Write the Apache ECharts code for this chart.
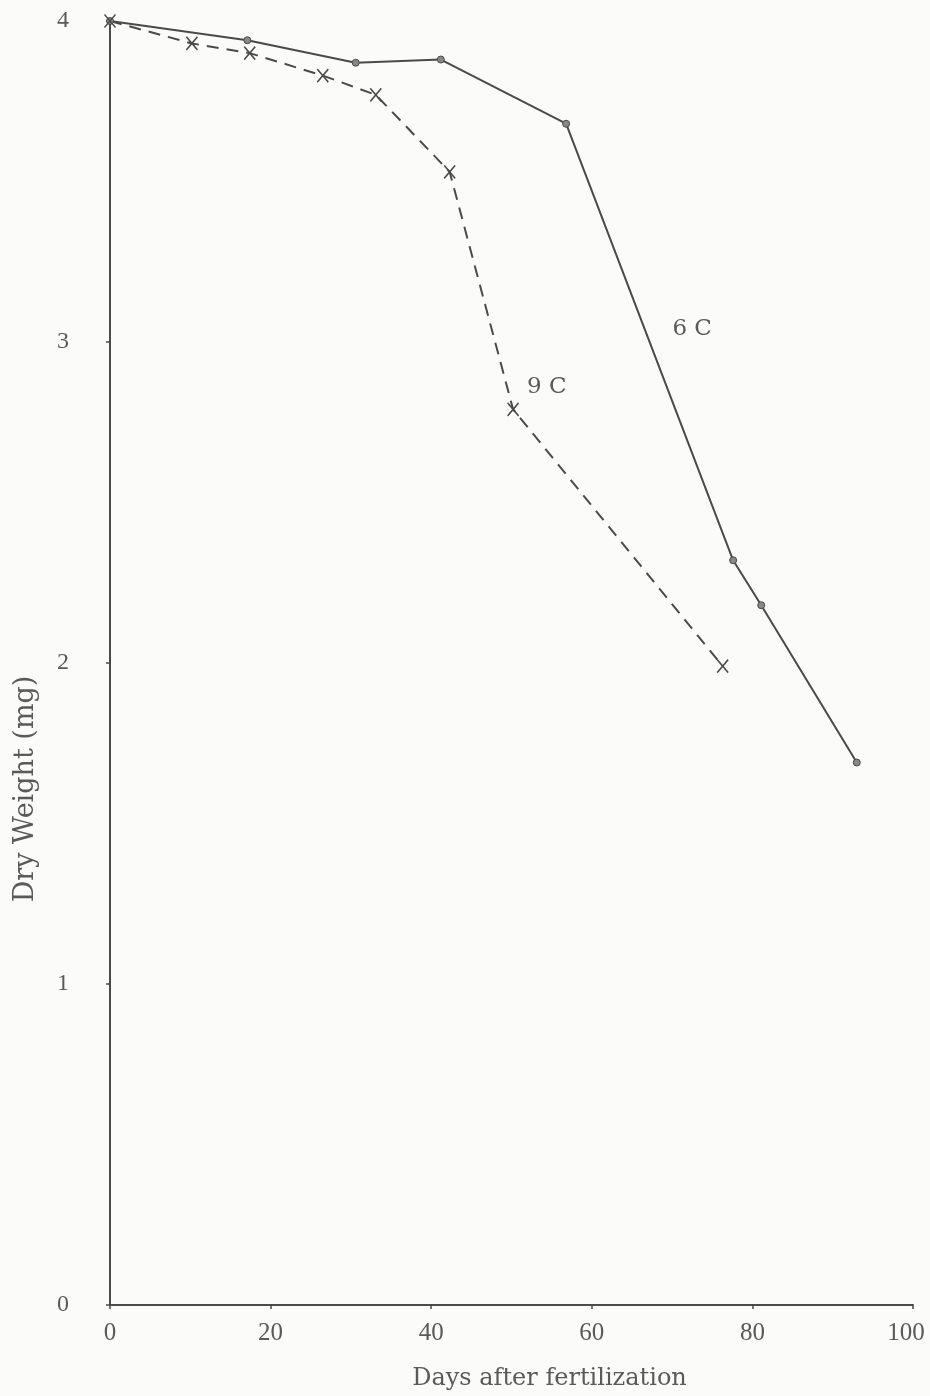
<!DOCTYPE html>
<html>
<head>
<meta charset="utf-8">
<script src="https://cdn.jsdelivr.net/npm/echarts@6/dist/echarts.min.js"></script>
<style>
html,body{margin:0;padding:0;background:#fbfbfa;}
#chart{width:930px;height:1396px;}
</style>
</head>
<body>
<div id="chart"></div>
<script>
// Data
const days6C = [0, 17.1, 30.6, 41.2, 56.8, 77.6, 81.1, 93.0];
const weight6C = [4.0, 3.94, 3.87, 3.88, 3.68, 2.32, 2.18, 1.69];
const days9C = [0, 10.2, 17.4, 26.5, 33.1, 42.3, 50.2, 76.3];
const weight9C = [4.0, 3.93, 3.90, 3.83, 3.77, 3.53, 2.79, 1.99];
const xTicks = [0, 20, 40, 60, 80, 100];
const yTicks = [0, 1, 2, 3, 4];
const label6C = {text: '6 C', x: 72.5, y: 3.04};
const label9C = {text: '9 C', x: 54.4, y: 2.86};

const ink = '#4a4a4a';
const textInk = '#5a5a5a';
const serif = 'DejaVu Serif';
const xMax = xTicks[xTicks.length - 1];

const pairs = (xs, ys) => xs.map((v, i) => [v, ys[i]]);

const chart = echarts.init(document.getElementById('chart'));
chart.setOption({
  backgroundColor: '#fbfbfa',
  animation: false,
  grid: {left: 110, right: 17, top: 21, bottom: 91, containLabel: false, outerBoundsMode: 'none'},
  xAxis: {
    type: 'value', min: xTicks[0], max: xMax, interval: 20,
    name: 'Days after fertilization', nameLocation: 'middle', nameGap: 62,
    nameTextStyle: {fontFamily: serif, fontSize: 24, color: textInk, padding: [0, 0, 0, 76]},
    axisLine: {show: true, lineStyle: {color: ink, width: 2}},
    axisTick: {show: true, length: 4, lineStyle: {color: ink, width: 1.5}},
    axisLabel: {
      margin: 16, fontFamily: 'Liberation Serif', fontSize: 25, color: textInk,
      formatter: v => v === xMax ? '{m|' + v + '}' : String(v),
      rich: {m: {fontFamily: 'Liberation Serif', fontSize: 25, color: textInk, padding: [0, 14, 0, 0]}}
    },
    splitLine: {show: false}
  },
  yAxis: {
    type: 'value', min: yTicks[0], max: yTicks[yTicks.length - 1], interval: 1,
    axisLine: {show: true, lineStyle: {color: ink, width: 2}},
    axisTick: {show: true, length: 4, lineStyle: {color: ink, width: 1.5}},
    axisLabel: {margin: 41, fontFamily: 'Liberation Serif', fontSize: 24, color: textInk},
    splitLine: {show: false}
  },
  graphic: [{
    type: 'text', x: 26, y: 789, rotation: Math.PI / 2,
    style: {text: 'Dry Weight (mg)', fontFamily: serif, fontSize: 27, fill: textInk,
            align: 'center', verticalAlign: 'middle'}
  }],
  series: [{
    name: '6 C', type: 'line', data: pairs(days6C, weight6C),
    lineStyle: {color: ink, width: 2},
    symbol: 'circle', symbolSize: 7,
    itemStyle: {color: '#888', borderColor: ink, borderWidth: 1},
    markPoint: {
      symbol: 'circle', symbolSize: 0,
      label: {show: true, formatter: label6C.text, fontFamily: serif, fontSize: 23, color: textInk},
      data: [{coord: [label6C.x, label6C.y]}]
    }
  }, {
    name: '9 C', type: 'line', data: pairs(days9C, weight9C),
    lineStyle: {color: ink, width: 2, type: [12, 8]},
    symbol: 'path://M0,0L10,12M10,0L0,12', symbolSize: [11, 13],
    itemStyle: {color: 'none', borderColor: ink, borderWidth: 1.6},
    markPoint: {
      symbol: 'circle', symbolSize: 0,
      label: {show: true, formatter: label9C.text, fontFamily: serif, fontSize: 23, color: textInk},
      data: [{coord: [label9C.x, label9C.y]}]
    }
  }]
});
</script>
</body>
</html>
